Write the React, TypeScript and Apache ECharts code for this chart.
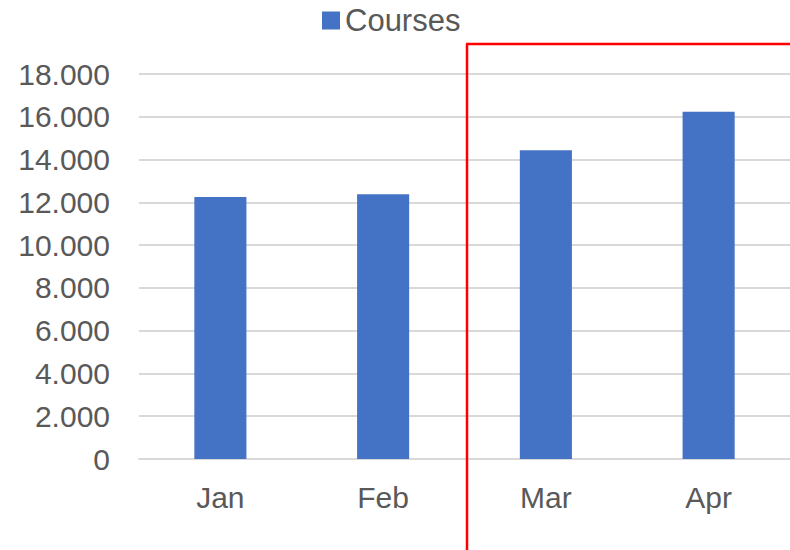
import React, { useEffect, useRef } from "react";
import * as echarts from "echarts";

const categories = ["Jan", "Feb", "Mar", "Apr"];
const courses = [12250, 12380, 14440, 16230];
const seriesName = "Courses";

const fmt = (v: number) => String(v).replace(/\B(?=(\d{3})+(?!\d))/g, ".");

export default function App() {
  const ref = useRef<HTMLDivElement>(null);
  useEffect(() => {
    document.body.style.margin = "0";
    const chart = echarts.init(ref.current!, null, { renderer: "svg" });
    const font = "'Liberation Sans', Arial, sans-serif";
    chart.setOption({
      animation: false,
      backgroundColor: "#ffffff",
      legend: {
        data: [seriesName],
        top: 5,
        left: 322,
        padding: 0,
        itemWidth: 18,
        itemHeight: 18,
        itemGap: 10,
        icon: "rect",
        textStyle: { fontSize: 31, color: "#595959", fontFamily: font },
      },
      grid: { left: 139, top: 74, width: 656, height: 385, containLabel: false },
      xAxis: {
        type: "category",
        data: categories,
        axisLine: { lineStyle: { color: "#d9d9d9", width: 2 } },
        axisTick: { show: false },
        axisLabel: { fontSize: 30, color: "#595959", fontFamily: font, margin: 23 },
      },
      yAxis: {
        type: "value",
        min: 0,
        max: 18000,
        interval: 2000,
        axisLine: { show: false },
        axisTick: { show: false },
        splitLine: { lineStyle: { color: "#d9d9d9", width: 2 } },
        axisLabel: {
          fontSize: 30,
          color: "#595959",
          fontFamily: font,
          margin: 29,
          formatter: (v: number) => fmt(v),
        },
      },
      series: [
        {
          name: seriesName,
          type: "bar",
          data: courses,
          barWidth: "32%",
          itemStyle: { color: "#4472c4" },
        },
      ],
      graphic: [
        {
          type: "line",
          shape: { x1: 467, y1: 44, x2: 467, y2: 550 },
          style: { stroke: "#ff0000", lineWidth: 2.5 },
          z: 100,
        },
        {
          type: "line",
          shape: { x1: 466, y1: 44, x2: 790, y2: 44 },
          style: { stroke: "#ff0000", lineWidth: 2.5 },
          z: 100,
        },
      ],
    });
    return () => chart.dispose();
  }, []);
  return <div ref={ref} style={{ width: 790, height: 550 }} />;
}
